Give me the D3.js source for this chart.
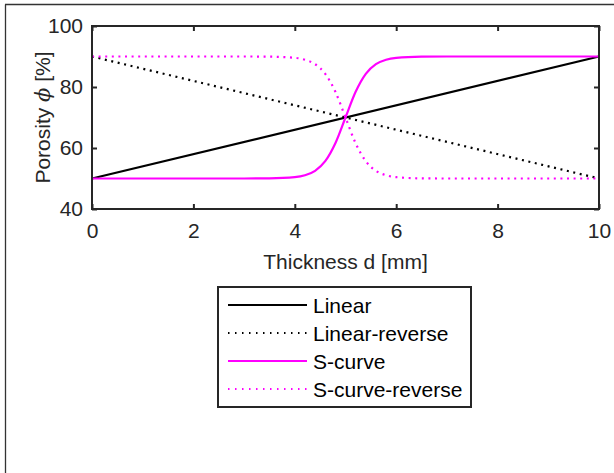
<!DOCTYPE html>
<html><head><meta charset="utf-8">
<script src="https://cdn.jsdelivr.net/npm/d3@7"></script>
<style>body{margin:0;background:#fff}svg{display:block}text{font-family:"Liberation Sans",Arial,Helvetica,sans-serif}</style>
</head><body><svg id="c" width="614" height="473"></svg>
<script>
const xTicks = [0, 2, 4, 6, 8, 10];
const yTicks = [40, 60, 80, 100];
const linearX = [0, 10];
const linearY = [50, 90];
const linearRevY = [90, 50];
const sX = [0, 1, 2, 3, 3.5, 4, 4.2, 4.4, 4.6, 4.8, 5, 5.2, 5.4, 5.6, 5.8, 6, 6.5, 7, 8, 9, 10];
const sY = [50, 50, 50, 50, 50.05, 50.44, 51.06, 52.52, 55.67, 61.56, 70, 78.44, 84.33, 87.48, 88.94, 89.56, 89.95, 90, 90, 90, 90];
const sRevY = [90, 90, 90, 90, 89.95, 89.56, 88.94, 87.48, 84.33, 78.44, 70, 61.56, 55.67, 52.52, 51.06, 50.44, 50.05, 50, 50, 50, 50];
const seriesNames = ["Linear", "Linear-reverse", "S-curve", "S-curve-reverse"];

const svg = d3.select("#c");
const L = 92, R = 599, T = 26, B = 209;
const x = d3.scaleLinear().domain([0, 10]).range([L, R]);
const y = d3.scaleLinear().domain([40, 100]).range([B, T]);
const axisCol = "#262626";
const fs = "21px";

// outer frame (left & top)
svg.append("line").attr("x1",5.5).attr("x2",5.5).attr("y1",4.5).attr("y2",473).attr("stroke","#333").attr("stroke-width",1.3);
svg.append("line").attr("x1",5).attr("x2",614).attr("y1",4.5).attr("y2",4.5).attr("stroke","#333").attr("stroke-width",1.3);

const series = [
  {name: seriesNames[0], xs: linearX, ys: linearY, color: "#000", dash: null},
  {name: seriesNames[1], xs: linearX, ys: linearRevY, color: "#000", dash: "2,4.6"},
  {name: seriesNames[2], xs: sX, ys: sY, color: "#ff00ff", dash: null},
  {name: seriesNames[3], xs: sX, ys: sRevY, color: "#ff00ff", dash: "2,4.6"}
];
const line = d3.line().x(d => x(d[0])).y(d => y(d[1])).curve(d3.curveMonotoneX);
const g = svg.append("g");
series.forEach(s => {
  const pts = s.xs.map((v, i) => [v, s.ys[i]]);
  g.append("path").attr("d", line(pts)).attr("fill","none").attr("stroke", s.color)
   .attr("stroke-width", 2.2).attr("stroke-dasharray", s.dash);
});

// axes (box with inward ticks)
const tl = 5;
const axB = svg.append("g").attr("transform",`translate(0,${B})`).call(d3.axisBottom(x).tickValues(xTicks).tickSizeInner(-tl).tickSizeOuter(0).tickPadding(14));
const axT = svg.append("g").attr("transform",`translate(0,${T})`).call(d3.axisTop(x).tickValues(xTicks).tickSizeInner(-tl).tickSizeOuter(0).tickFormat(""));
const axL = svg.append("g").attr("transform",`translate(${L},0)`).call(d3.axisLeft(y).tickValues(yTicks).tickSizeInner(-tl).tickSizeOuter(0).tickPadding(9));
const axR = svg.append("g").attr("transform",`translate(${R},0)`).call(d3.axisRight(y).tickValues(yTicks).tickSizeInner(-tl).tickSizeOuter(0).tickFormat(""));
[axB, axT, axL, axR].forEach(a => {
  a.select(".domain").remove();
  a.selectAll(".tick line").attr("stroke", axisCol).attr("stroke-width", 2);
  a.selectAll("text").attr("fill", axisCol).style("font-size",fs).style("font-family",'"Liberation Sans",Arial,sans-serif');
});
svg.append("rect").attr("x",L).attr("y",T).attr("width",R-L).attr("height",B-T).attr("fill","none").attr("stroke",axisCol).attr("stroke-width",2);

// axis titles
svg.append("text").attr("x",(L+R)/2).attr("y",269).attr("text-anchor","middle").attr("fill",axisCol).style("font-size",fs).text("Thickness d [mm]");
const yl = svg.append("text").attr("transform",`translate(50,${(T+B)/2}) rotate(-90)`).attr("text-anchor","middle").attr("fill",axisCol).style("font-size",fs);
yl.append("tspan").text("Porosity ");
yl.append("tspan").style("font-style","italic").style("font-family",'"DejaVu Serif",serif').style("font-weight","300").text("ϕ");
yl.append("tspan").text(" [%]");

// legend
const lg = svg.append("g");
lg.append("rect").attr("x",218).attr("y",287).attr("width",253).attr("height",120).attr("fill","#fff").attr("stroke",axisCol).attr("stroke-width",2);
series.forEach((s, i) => {
  const yy = 305 + i * 28;
  lg.append("line").attr("x1",228).attr("x2",307).attr("y1",yy).attr("y2",yy).attr("stroke",s.color).attr("stroke-width",2).attr("stroke-dasharray", s.dash ? "1.5,5.5" : null);
  lg.append("text").attr("x",313).attr("y",yy).attr("dy","0.36em").attr("fill","#000").style("font-size",fs).text(s.name);
});
</script></body></html>
